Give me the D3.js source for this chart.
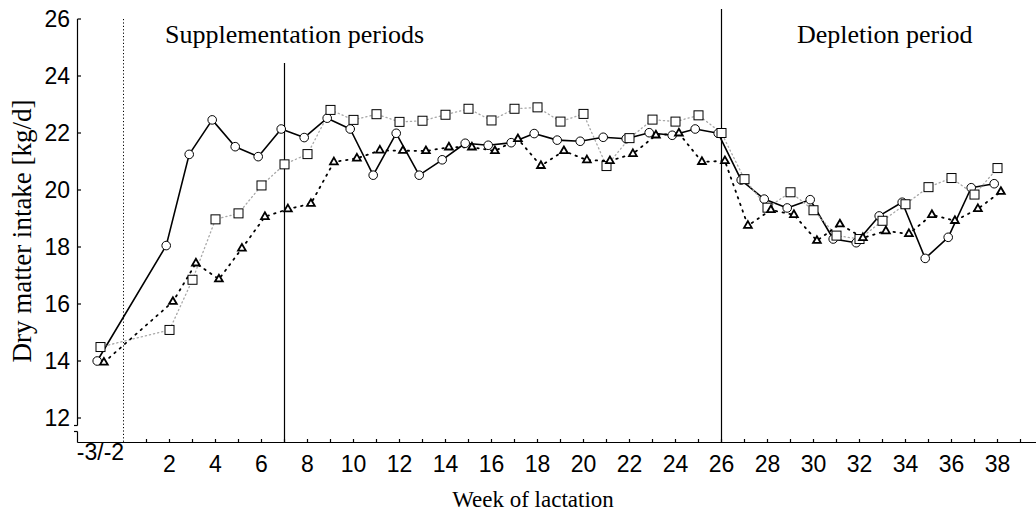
<!DOCTYPE html>
<html>
<head>
<meta charset="utf-8">
<script src="https://cdn.jsdelivr.net/npm/d3@7"></script>
<style>
  html, body { margin: 0; padding: 0; background: #fff; }
  svg { display: block; }
</style>
</head>
<body>
<svg id="chart" width="1036" height="518"></svg>
<script>
// Weeks of lactation (-1 stands for the pre-calving weeks -3/-2)
const weeks = [-1, 2, 3, 4, 5, 6, 7, 8, 9, 10, 11, 12, 13, 14, 15, 16, 17, 18, 19, 20,
  21, 22, 23, 24, 25, 26, 27, 28, 29, 30, 31, 32, 33, 34, 35, 36, 37, 38];

// Dry matter intake [kg/d] per group
const circleSeries = [14.0, 18.05, 21.25, 22.46, 21.52, 21.17, 22.14, 21.84, 22.52, 22.14,
  20.52, 21.99, 20.52, 21.06, 21.64, 21.57, 21.66, 21.98, 21.75, 21.71,
  21.85, 21.80, 22.01, 21.92, 22.14, 21.99, 20.35, 19.68, 19.37, 19.66,
  18.28, 18.15, 19.09, 19.57, 17.60, 18.34, 20.08, 20.22];
const squareSeries = [14.49, 15.09, 16.85, 18.97, 19.18, 20.16, 20.90, 21.26, 22.81, 22.46,
  22.66, 22.39, 22.43, 22.64, 22.85, 22.44, 22.85, 22.90, 22.40, 22.67,
  20.84, 21.82, 22.47, 22.40, 22.62, 22.00, 20.38, 19.38, 19.92, 19.29,
  18.40, 18.28, 18.92, 19.50, 20.10, 20.42, 19.84, 20.77];
const triangleSeries = [13.95, 16.08, 17.43, 16.87, 17.95, 19.06, 19.33, 19.52, 20.98, 21.11,
  21.39, 21.38, 21.37, 21.50, 21.50, 21.37, 21.79, 20.85, 21.37, 21.05,
  21.02, 21.27, 21.92, 21.99, 20.99, 21.02, 18.75, 19.30, 19.13, 18.22,
  18.80, 18.32, 18.56, 18.46, 19.13, 18.92, 19.34, 19.94];

// Axis ticks and labels
const yTicks = [12, 14, 16, 18, 20, 22, 24, 26];
const xMinorTicks = d3.range(1, 40);
const xLabelWeeks = [2, 4, 6, 8, 10, 12, 14, 16, 18, 20, 22, 24, 26, 28, 30, 32, 34, 36, 38];
const preCalvingLabel = "-3/-2";
const periodMarks = [0, 7, 26]; // start of lactation, end of first supplementation, start of depletion
const periodTitles = ["Supplementation periods", "Depletion period"];

const svg = d3.select("#chart");
const serif = "'Liberation Serif', 'Times New Roman', serif";
const sans = "'Liberation Sans', Arial, sans-serif";

const x = d3.scaleLinear().domain([-2, 40]).range([77.5, 1043.5]);
const y = d3.scaleLinear().domain([12, 26]).range([418, 19]);
const yBottom = 11.14;
const x0 = x(-2), xEnd = 1036, yAxisPos = y(yBottom);

// ---- axes ----
const axes = svg.append("g").attr("stroke", "#000").attr("stroke-width", 1.2).attr("fill", "none");
// x axis line
axes.append("line").attr("x1", x0).attr("x2", xEnd).attr("y1", yAxisPos).attr("y2", yAxisPos);
// y axis with a break near the bottom
const breakTop = 425.5, breakBottom = 431.5;
axes.append("line").attr("x1", x0).attr("x2", x0).attr("y1", y(26)).attr("y2", breakTop);
axes.append("line").attr("x1", x0).attr("x2", x0).attr("y1", breakBottom).attr("y2", yAxisPos);
axes.append("line").attr("x1", x0 - 3.5).attr("x2", x0).attr("y1", breakTop).attr("y2", breakTop);
axes.append("line").attr("x1", x0 - 3.5).attr("x2", x0).attr("y1", breakBottom).attr("y2", breakBottom);

// y ticks (inward) and labels
axes.selectAll(".ytick").data(yTicks).join("line")
  .attr("x1", x0).attr("x2", x0 + 3.5)
  .attr("y1", d => y(d)).attr("y2", d => y(d));
svg.append("g").selectAll("text").data(yTicks).join("text")
  .attr("x", 70).attr("y", d => y(d)).attr("dy", "0.36em")
  .attr("text-anchor", "end").attr("font-family", sans).attr("font-size", 23)
  .text(d => d);

// x ticks (inward) and labels
axes.selectAll(".xtick").data(xMinorTicks).join("line")
  .attr("x1", d => x(d)).attr("x2", d => x(d))
  .attr("y1", yAxisPos).attr("y2", yAxisPos - 3.5);
svg.append("g").selectAll("text").data(xLabelWeeks).join("text")
  .attr("x", d => x(d)).attr("y", 472)
  .attr("text-anchor", "middle").attr("font-family", sans).attr("font-size", 23)
  .text(d => d);
svg.append("text").attr("x", x(-1)).attr("y", 460)
  .attr("text-anchor", "middle").attr("font-family", sans).attr("font-size", 23)
  .text(preCalvingLabel);

// ---- period separators ----
svg.append("line").attr("x1", x(periodMarks[0])).attr("x2", x(periodMarks[0]))
  .attr("y1", y(26)).attr("y2", yAxisPos)
  .attr("stroke", "#000").attr("stroke-width", 1).attr("stroke-dasharray", "1.2,2.2");
svg.append("line").attr("x1", x(periodMarks[1])).attr("x2", x(periodMarks[1]))
  .attr("y1", 63).attr("y2", yAxisPos)
  .attr("stroke", "#000").attr("stroke-width", 1.2);
svg.append("line").attr("x1", x(periodMarks[2])).attr("x2", x(periodMarks[2]))
  .attr("y1", 9).attr("y2", yAxisPos)
  .attr("stroke", "#000").attr("stroke-width", 1.2);

svg.append("text").attr("x", 165).attr("y", 43).attr("font-family", serif).attr("font-size", 26)
  .text(periodTitles[0]);
svg.append("text").attr("x", 797).attr("y", 43).attr("font-family", serif).attr("font-size", 26)
  .text(periodTitles[1]);

// ---- axis titles ----
svg.append("text").attr("transform", "translate(31,231) rotate(-90)")
  .attr("text-anchor", "middle").attr("font-family", serif).attr("font-size", 27)
  .text("Dry matter intake [kg/d]");
svg.append("text").attr("x", 533).attr("y", 507)
  .attr("text-anchor", "middle").attr("font-family", serif).attr("font-size", 23)
  .text("Week of lactation");

// ---- series ----
const groups = [
  { values: circleSeries, dx: -3.3, line: { stroke: "#000", width: 1.6, dash: null }, marker: "circle" },
  { values: squareSeries, dx: 0, line: { stroke: "#a8a8a8", width: 1.3, dash: "1.2,3" }, marker: "square" },
  { values: triangleSeries, dx: 3.4, line: { stroke: "#000", width: 1.8, dash: "1.5,5.5" }, marker: "triangle" }
];

const plot = svg.append("g");
groups.forEach(g => {
  const pts = weeks.map((w, i) => [x(w) + g.dx, y(g.values[i])]);
  plot.append("path")
    .attr("d", d3.line()(pts))
    .attr("fill", "none")
    .attr("stroke", g.line.stroke)
    .attr("stroke-width", g.line.width)
    .attr("stroke-dasharray", g.line.dash)
    .attr("stroke-linecap", g.line.dash ? "round" : "butt")
    .attr("stroke-linejoin", "round");
});

groups.forEach(g => {
  const pts = weeks.map((w, i) => [x(w) + g.dx, y(g.values[i])]);
  const m = plot.append("g");
  if (g.marker === "circle") {
    m.selectAll("circle").data(pts).join("circle")
      .attr("cx", d => d[0]).attr("cy", d => d[1]).attr("r", 4.3)
      .attr("fill", "#fff").attr("stroke", "#000").attr("stroke-width", 1);
  } else if (g.marker === "square") {
    m.selectAll("rect").data(pts).join("rect")
      .attr("x", d => d[0] - 4.5).attr("y", d => d[1] - 4.5)
      .attr("width", 9).attr("height", 9)
      .attr("fill", "#fff").attr("stroke", "#000").attr("stroke-width", 1);
  } else {
    const tri = d3.symbol().type(d3.symbolTriangle).size(26);
    m.selectAll("path").data(pts).join("path")
      .attr("transform", d => `translate(${d[0]},${d[1]})`)
      .attr("d", tri)
      .attr("fill", "#fff").attr("stroke", "#000").attr("stroke-width", 1.8);
  }
});
</script>
</body>
</html>
